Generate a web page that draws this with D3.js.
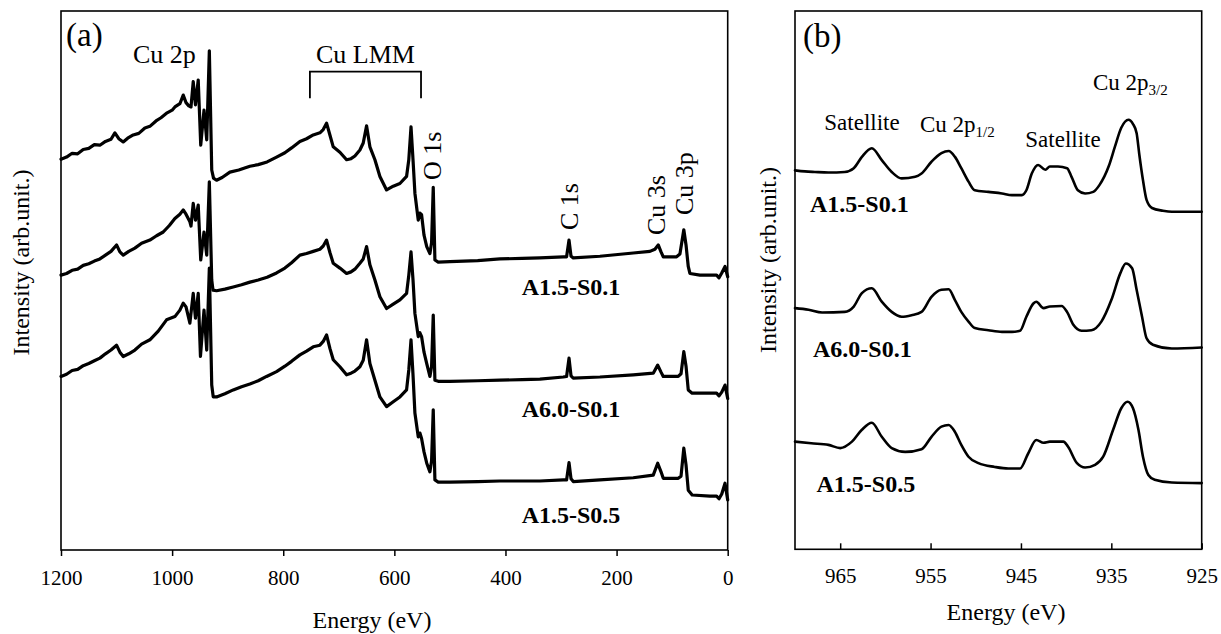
<!DOCTYPE html>
<html>
<head>
<meta charset="utf-8">
<script src="https://cdn.jsdelivr.net/npm/d3@7/dist/d3.min.js"></script>
<style>
  body { margin: 0; background: #fff; }
  svg text { font-family: "Times New Roman", "Liberation Serif", serif; fill: #000; }
</style>
</head>
<body>
<svg id="chart" width="1221" height="634"></svg>
<script>
// ---------- Survey scans, panel (a): [energy eV, intensity a.u.], curves stacked ----------
const surveyA15S01 = [
  [1200,72.5],[1190,72.9],[1180,73.6],[1170,73.5],[1160,74.3],[1150,74.5],[1140,75.2],[1130,75.1],
  [1120,75.8],[1110,76.2],[1103,77.4],[1096,76.3],[1088,75.7],[1080,76.4],[1070,77.0],[1060,77.3],
  [1049,78.3],[1040,78.6],[1029,79.6],[1020,80.2],[1009,81.1],[1000,81.6],[995,82.2],[986,82.8],
  [980,84.4],[975,83.0],[970,82.4],[966,82.2],[962,86.9],[958,82.6],[953,87.2],[948.5,75.1],
  [942.6,81.6],[937.7,76.1],[933,92.6],[928.7,70.5],[925.5,69.0],[920,68.6],[910,69.1],[896,70.1],
  [880,70.5],[860,71.2],[845,71.5],[829,72.0],[812,72.9],[797,73.7],[785,74.6],[770,75.8],
  [758,76.3],[746,77.0],[734,77.4],[728,78.0],[722,79.2],[716,77.0],[710,74.8],[698,73.8],
  [686,72.4],[678,72.6],[671,73.1],[662,74.2],[656,75.5],[650,78.7],[644,74.8],[635,72.4],
  [626,69.3],[614,66.8],[602,67.5],[590,68.0],[578,69.3],[574,72.4],[570,78.5],[566.4,72.4],
  [563,66.2],[557,61.2],[554,62.5],[551,62.2],[546.6,58.4],[541.7,56.3],[536,55.0],[533,57.0],
  [530,67.3],[527,53.8],[521,53.4],[500,53.5],[450,53.7],[410,54.0],[370,54.1],[338,54.2],
  [296,54.4],[290,54.4],[285.6,57.5],[282,54.5],[278,54.2],[230,54.5],[170,55.1],[140,55.4],
  [131,55.8],[125,56.6],[120,55.3],[116,54.4],[92,54.4],[86,54.9],[79,59.4],[75,56.6],
  [71,52.6],[68,51.3],[50,51.0],[20,51.0],[15.6,50.5],[10.7,51.4],[4.8,52.6],[0,50.7]
];
const surveyA60S01 = [
  [1200,51.0],[1190,51.3],[1180,51.9],[1170,52.1],[1160,52.8],[1150,53.1],[1140,53.6],[1130,54.0],
  [1120,54.7],[1110,55.4],[1100,56.6],[1094,55.3],[1088,54.7],[1078,55.4],[1067,56.0],[1055,56.9],
  [1040,57.5],[1028,58.3],[1016,59.0],[1005,60.2],[995,61.5],[986,62.3],[980,63.1],[975,62.3],
  [968,60.9],[966,60.1],[962,64.3],[958,61.2],[953,64.0],[948.5,53.8],[942.6,59.0],[937.7,54.7],
  [933,68.3],[928.7,50.1],[926.4,48.2],[920,48.1],[905,48.4],[890,48.8],[875,49.2],[860,49.7],
  [845,50.1],[829,50.6],[812,51.4],[797,52.3],[785,53.3],[770,54.7],[758,55.0],[746,55.4],
  [734,55.8],[728,56.4],[722,57.5],[716,55.2],[710,53.2],[698,52.3],[686,51.3],[678,51.6],
  [671,52.1],[662,53.2],[656,54.0],[650,56.3],[644,52.9],[635,50.1],[626,47.0],[614,44.8],
  [602,45.6],[590,46.4],[578,47.6],[574,51.0],[570,55.3],[566.4,50.1],[563,43.9],[557,39.6],
  [554,40.3],[551,39.6],[546.6,36.7],[541.7,34.6],[536,32.2],[533,34.0],[530,43.6],[527,31.5],
  [521,31.3],[500,31.3],[450,31.4],[410,31.5],[370,31.6],[338,31.7],[296,32.1],[290,32.2],
  [285.6,35.6],[282,32.3],[278,31.9],[230,32.1],[170,32.5],[134,32.8],[126,34.3],[120,33.0],
  [116,32.2],[89,32.2],[84,32.7],[79,36.8],[75,34.1],[71,29.7],[64,29.1],[32,29.1],
  [20,29.1],[15.6,28.6],[10.7,29.3],[4.8,30.6],[0,28.1]
];
const surveyA15S05 = [
  [1200,32.2],[1190,32.6],[1180,33.3],[1170,33.5],[1160,34.2],[1150,34.6],[1140,35.1],[1130,35.6],
  [1120,36.4],[1110,37.1],[1100,38.0],[1094,36.7],[1088,35.9],[1078,36.4],[1067,37.1],[1055,38.2],
  [1040,39.0],[1025,40.6],[1010,42.7],[995,43.3],[986,44.5],[980,45.8],[975,45.1],[968,42.1],
  [962,47.6],[958,43.0],[953,47.6],[949,35.9],[942.6,44.5],[937.7,37.1],[933,52.3],[928.7,30.6],
  [926,28.4],[920,28.4],[905,29.0],[890,29.7],[875,30.3],[860,30.8],[845,31.4],[830,32.2],
  [812,33.1],[797,34.1],[785,35.0],[770,36.2],[758,36.9],[746,37.7],[734,38.0],[728,38.7],
  [722,39.9],[716,37.4],[710,35.3],[698,34.0],[686,32.5],[678,32.8],[671,33.2],[662,34.0],
  [656,35.2],[650,39.0],[644,34.6],[635,31.5],[626,28.4],[614,26.6],[602,27.5],[590,28.4],
  [578,29.7],[574,33.4],[570,39.0],[566.4,32.5],[563,25.4],[557,21.0],[554,21.7],[551,20.7],
  [546.6,18.2],[541.7,16.1],[536,14.5],[533,16.5],[530,26.0],[527,13.0],[521,12.6],[500,12.6],
  [450,12.7],[410,12.8],[370,12.8],[338,12.8],[296,13.0],[290,13.0],[285.6,16.2],[282,13.2],
  [278,12.7],[230,13.0],[170,13.4],[134,13.9],[126,16.1],[120,14.5],[116,13.3],[89,13.3],
  [84,13.7],[79,18.9],[75,15.8],[71,11.1],[64,10.2],[32,10.0],[20,10.0],[15.6,9.5],
  [10.7,10.4],[4.8,12.4],[0,9.3]
];

// ---------- Cu 2p high-resolution scans, panel (b) ----------
const cu2pA15S01 = [
  [970,70.4],[968.9,70.2],[967.8,70.1],[966.3,70.0],[964.5,70.1],[963.5,70.8],[962.6,72.9],[961.5,74.5],
  [960.4,72.3],[959.3,70.1],[958.2,68.9],[956.7,69.2],[956.0,69.8],[954.9,72.0],[953.8,73.6],[953.0,74.0],
  [952.3,72.9],[951.6,70.8],[950.8,68.3],[950.1,66.7],[948.6,66.4],[947.1,66.1],[946.0,65.8],[944.9,65.8],
  [944.4,66.7],[943.8,69.8],[943.1,71.4],[942.3,70.5],[941.8,71.1],[940.9,71.1],[939.9,70.8],[939.4,69.2],
  [938.7,66.7],[937.9,66.1],[937.0,66.4],[936.3,67.7],[935.3,71.1],[934.6,74.8],[933.9,78.3],[933.1,79.8],
  [932.6,79.0],[932.2,77.3],[931.9,73.3],[931.5,68.6],[931.1,64.9],[930.5,63.4],[929.3,62.9],[928.3,62.7],
  [927.0,62.7],[925,62.7]
];
const cu2pA60S01 = [
  [970,44.8],[968.5,44.5],[967.0,44.0],[964.5,44.1],[963.5,45.1],[962.6,47.6],[961.5,48.5],[960.4,46.0],
  [959.3,44.1],[958.2,43.2],[957.1,43.5],[956.0,44.1],[954.9,46.9],[953.8,48.2],[953.0,48.3],[952.3,46.3],
  [951.6,44.1],[950.8,42.3],[950.1,41.1],[948.6,40.7],[947.1,40.4],[946.0,40.4],[945.1,40.6],[944.4,43.2],
  [943.6,45.7],[943.3,46.0],[942.5,44.8],[941.8,45.1],[940.5,45.2],[939.9,44.1],[939.2,41.7],[938.3,40.6],
  [937.2,40.7],[936.1,42.3],[935.0,46.3],[934.0,51.3],[933.4,53.1],[932.7,52.2],[932.2,48.2],[931.6,43.2],
  [931.1,39.2],[930.4,38.0],[928.3,37.3],[925,37.5]
];
const cu2pA15S05 = [
  [970,20.0],[968.2,19.7],[966.3,19.4],[965.0,18.8],[963.7,20.0],[962.6,22.2],[961.5,23.5],[960.4,20.9],
  [959.3,18.8],[957.8,18.1],[956.0,18.6],[954.9,20.9],[953.8,22.8],[953.0,23.1],[952.3,21.8],[951.6,19.4],
  [950.8,17.2],[949.7,16.0],[947.9,15.3],[946.4,15.0],[945.1,15.0],[944.2,17.8],[943.3,20.3],[942.5,19.8],
  [941.8,20.0],[940.3,20.0],[939.8,19.1],[938.8,16.0],[937.9,15.2],[936.8,15.7],[935.9,17.2],[934.8,22.2],
  [933.9,26.2],[933.2,27.4],[932.6,26.2],[932.0,22.2],[931.5,17.2],[930.9,13.8],[930.2,12.9],[928.3,12.4],
  [925,12.3]
];

// ---------- Axis ticks and annotation text ----------
const surveyTicks = [1200, 1000, 800, 600, 400, 200, 0];
const cu2pTicks = [965, 955, 945, 935, 925];
const sampleNames = ["A1.5-S0.1", "A6.0-S0.1", "A1.5-S0.5"];
const surveyPeakNames = ["O 1s", "C 1s", "Cu 3s", "Cu 3p"];

const svg = d3.select("#chart");
const serif = "'Times New Roman','Liberation Serif',serif";

// ================= Panel (a) =================
const xA = d3.scaleLinear().domain([1200, 0]).range([61, 727.7]);
const yA = d3.scaleLinear().domain([0, 100]).range([550, 11]);

const gA = svg.append("g");
const axisA = d3.axisBottom(xA).tickValues(surveyTicks).tickFormat(d3.format("d"))
  .tickSizeInner(6).tickSizeOuter(0).tickPadding(14);
gA.append("g").attr("transform", `translate(0,${yA(0)})`).call(axisA)
  .call(g => g.select(".domain").remove())
  .call(g => g.selectAll(".tick line").attr("stroke", "#000").attr("stroke-width", 1.5))
  .call(g => g.selectAll(".tick text").attr("font-size", 21).attr("font-family", serif));

gA.append("rect")
  .attr("x", xA(1200)).attr("y", yA(100))
  .attr("width", xA(0) - xA(1200)).attr("height", yA(0) - yA(100))
  .attr("fill", "none").attr("stroke", "#000").attr("stroke-width", 1.6);

const lineA = d3.line().x(d => xA(d[0])).y(d => yA(d[1]));
[surveyA15S01, surveyA60S01, surveyA15S05].forEach(s => {
  gA.append("path").datum(s).attr("d", lineA)
    .attr("fill", "none").attr("stroke", "#000").attr("stroke-width", 3.2)
    .attr("stroke-linejoin", "round").attr("stroke-linecap", "round");
});

// Panel tag and peak names
gA.append("text").attr("x", 66).attr("y", 46).attr("font-size", 33).text("(a)");
gA.append("text").attr("x", 133).attr("y", 63).attr("font-size", 26).text("Cu 2p");
gA.append("text").attr("x", (xA(752) + xA(552)) / 2).attr("y", 63).attr("font-size", 26)
  .attr("text-anchor", "middle").text("Cu LMM");
// LMM bracket spanning the Auger region
const brTop = 71.7, brBot = 98.3;
gA.append("path")
  .attr("d", `M${xA(752)},${brBot}V${brTop}H${xA(552)}V${brBot}`)
  .attr("fill", "none").attr("stroke", "#000").attr("stroke-width", 1.8);

// Rotated peak names above each core-level line
const peakLabelPos = [[441, 180], [578, 230], [665, 235], [693, 215]];
surveyPeakNames.forEach((t, i) => {
  gA.append("text").attr("transform", `translate(${peakLabelPos[i][0]},${peakLabelPos[i][1]}) rotate(-90)`)
    .attr("font-size", 26).text(t);
});

// Sample names
[295, 416.5, 523].forEach((yy, i) => {
  gA.append("text").attr("x", 571).attr("y", yy).attr("text-anchor", "middle")
    .attr("font-size", 24).attr("font-weight", "bold").text(sampleNames[i]);
});

gA.append("text").attr("x", 372).attr("y", 628).attr("text-anchor", "middle")
  .attr("font-size", 24).text("Energy (eV)");
gA.append("text").attr("transform", "translate(29,262.5) rotate(-90)")
  .attr("text-anchor", "middle").attr("font-size", 24).text("Intensity (arb.unit.)");

// ================= Panel (b) =================
const xB = d3.scaleLinear().domain([970, 925]).range([795, 1201.7]);
const yB = d3.scaleLinear().domain([0, 100]).range([549.3, 11]);

const gB = svg.append("g");
const axisB = d3.axisBottom(xB).tickValues(cu2pTicks).tickFormat(d3.format("d"))
  .tickSizeInner(-6).tickSizeOuter(0).tickPadding(19);
gB.append("g").attr("transform", `translate(0,${yB(0)})`).call(axisB)
  .call(g => g.select(".domain").remove())
  .call(g => g.selectAll(".tick line").attr("stroke", "#000").attr("stroke-width", 1.5))
  .call(g => g.selectAll(".tick text").attr("font-size", 21).attr("font-family", serif));

gB.append("rect")
  .attr("x", xB(970)).attr("y", yB(100))
  .attr("width", xB(925) - xB(970)).attr("height", yB(0) - yB(100))
  .attr("fill", "none").attr("stroke", "#000").attr("stroke-width", 1.6);

const lineB = d3.line().x(d => xB(d[0])).y(d => yB(d[1])).curve(d3.curveMonotoneX);
[cu2pA15S01, cu2pA60S01, cu2pA15S05].forEach(s => {
  gB.append("path").datum(s).attr("d", lineB)
    .attr("fill", "none").attr("stroke", "#000").attr("stroke-width", 2.6)
    .attr("stroke-linejoin", "round").attr("stroke-linecap", "round");
});

gB.append("text").attr("x", 803).attr("y", 47).attr("font-size", 33).text("(b)");
gB.append("text").attr("x", 862).attr("y", 130).attr("text-anchor", "middle")
  .attr("font-size", 23).text("Satellite");
gB.append("text").attr("x", 1063).attr("y", 146.5).attr("text-anchor", "middle")
  .attr("font-size", 23).text("Satellite");

function subLabel(x, y, main, sub) {
  const t = gB.append("text").attr("x", x).attr("y", y).attr("font-size", 23);
  t.append("tspan").text(main);
  t.append("tspan").attr("font-size", 15).attr("dy", 5).text(sub);
}
subLabel(920, 132, "Cu 2p", "1/2");
subLabel(1093, 90, "Cu 2p", "3/2");

[211.5, 357, 492].forEach((yy, i) => {
  gB.append("text").attr("x", [810, 813, 816.5][i]).attr("y", yy)
    .attr("font-size", 24).attr("font-weight", "bold").text(sampleNames[i]);
});

gB.append("text").attr("x", 1006).attr("y", 620).attr("text-anchor", "middle")
  .attr("font-size", 24).text("Energy (eV)");
gB.append("text").attr("transform", "translate(776,260) rotate(-90)")
  .attr("text-anchor", "middle").attr("font-size", 24).text("Intensity (arb.unit.)");
</script>
</body>
</html>
